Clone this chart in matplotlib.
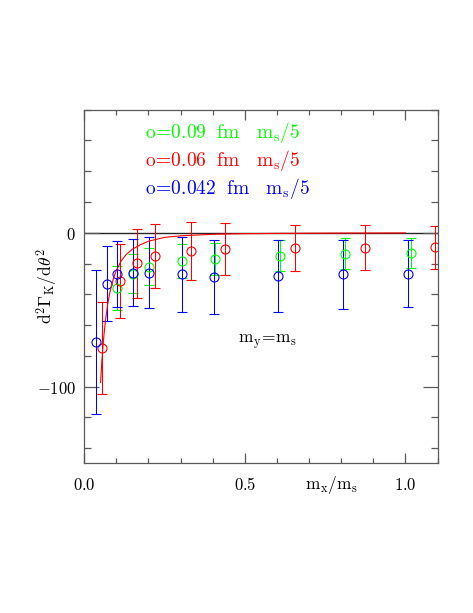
import matplotlib
matplotlib.use('Agg')
import matplotlib.pyplot as plt
from matplotlib.ticker import MultipleLocator, FixedLocator, FuncFormatter

plt.rcParams['mathtext.fontset'] = 'cm'

# a = 0.09 fm
green_x = [0.103, 0.152, 0.202, 0.306, 0.407, 0.609, 0.813, 1.017]
green_y = [-36, -26.5, -22, -18.5, -17, -15, -13.7, -13]
green_err = [14.5, 13, 12, 11, 10.4, 10, 10, 9.7]

# a = 0.06 fm
red_x = [0.056, 0.111, 0.164, 0.219, 0.331, 0.438, 0.657, 0.874, 1.093]
red_y = [-75, -31.5, -19.8, -15, -12, -10.7, -9.8, -9.6, -9.4]
red_err = [29.7, 24, 22.5, 21, 19, 17, 15, 14.5, 14]

# a = 0.042 fm
blue_x = [0.036, 0.070, 0.103, 0.152, 0.201, 0.304, 0.403, 0.604, 0.806, 1.008]
blue_y = [-71, -33, -27, -26, -26, -27, -29, -28, -27, -26.5]
blue_err = [47, 24.5, 21.5, 21.7, 23, 24.5, 24, 23.5, 22.5, 22]

# red fit curve
fit_x = [0.051, 0.055, 0.06, 0.066, 0.073, 0.08, 0.09, 0.1, 0.115, 0.13,
         0.15, 0.175, 0.2, 0.25, 0.3, 0.4, 0.5, 0.6, 0.8, 1.0]
fit_y = [-97.4, -83.4, -69.8, -57.4, -46.7, -38.7, -30.4, -24.5, -18.4, -14.3,
         -10.7, -7.8, -5.5, -3.0, -2.0, -1.0, -0.6, -0.4, -0.2, -0.1]

labels = [r'$\mathrm{o\!=\!0.09\ \ fm\ \ \ m_s/5}$',
          r'$\mathrm{o\!=\!0.06\ \ fm\ \ \ m_s/5}$',
          r'$\mathrm{o\!=\!0.042\ \ fm\ \ \ m_s/5}$']
colors = ['#00ff00', '#ff0000', '#0000ff']

fig = plt.figure(figsize=(4.73, 6.13), dpi=100)
ax = fig.add_axes([0.178, 0.244, 0.747, 0.577])

ax.axhline(0, color='0.15', lw=1.0, zorder=1)

sets = [(green_x, green_y, green_err), (red_x, red_y, red_err), (blue_x, blue_y, blue_err)]
for (xs, ys, es), c in zip(sets, colors):
    ax.errorbar(xs, ys, yerr=es, fmt='o', mfc='none', mec=c, ms=6.5, mew=0.8,
                ecolor=c, elinewidth=0.75, capsize=3.8, capthick=0.75, zorder=2)

ax.plot(fit_x, fit_y, color='#ff0000', lw=0.8, zorder=3)

for i, (lab, c) in enumerate(zip(labels, colors)):
    ax.text(0.189, 65 - 18.2 * i, lab, color=c, fontsize=14, va='center', ha='left')

ax.text(0.57, -71, r'$\mathrm{m_y\!=\!m_s}$', fontsize=12.5, ha='center', va='center')

ax.set_xlim(0, 1.1)
ax.set_ylim(-150, 80)
ax.xaxis.set_major_locator(FixedLocator([0, 0.5, 1.0]))
ax.xaxis.set_minor_locator(MultipleLocator(0.1))
ax.yaxis.set_major_locator(FixedLocator([-100, 0]))
ax.yaxis.set_minor_locator(MultipleLocator(20))
ax.xaxis.set_major_formatter(FuncFormatter(lambda v, p: r'$\mathrm{%.1f}$' % v))
ax.yaxis.set_major_formatter(FuncFormatter(lambda v, p: r'$\mathrm{%d}$' % v))

ax.tick_params(which='both', direction='in', top=True, right=True, color='0.35', width=0.9)
ax.tick_params(axis='x', which='major', length=7, pad=9, labelsize=12)
ax.tick_params(axis='x', which='minor', length=3.6)
ax.tick_params(axis='y', which='major', length=11, pad=6, labelsize=12)
ax.tick_params(axis='y', which='minor', length=5)
for s in ax.spines.values():
    s.set_color('0.35')
    s.set_linewidth(0.9)

ax.set_ylabel(r'$\mathrm{d^2\Gamma_K/d\theta^2}$', fontsize=12.5, va='center')
ax.yaxis.set_label_coords(-0.103, 0.5)
ax.text(0.77, -157, r'$\mathrm{m_x/m_s}$', fontsize=12.5, ha='center', va='top')

fig.savefig('out.png', dpi=100)
